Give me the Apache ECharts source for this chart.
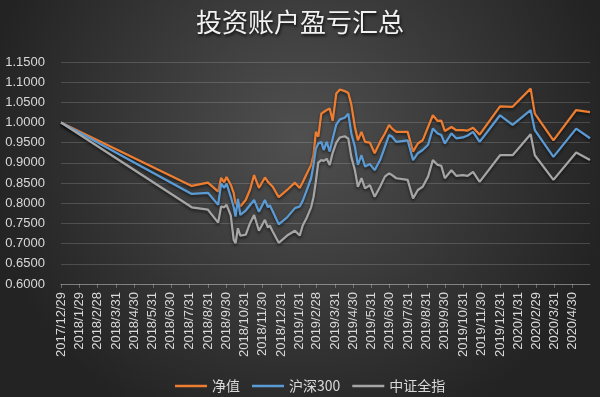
<!DOCTYPE html>
<html>
<head>
<meta charset="utf-8">
<title>投资账户盈亏汇总</title>
<script src="https://cdn.jsdelivr.net/npm/echarts@6.0.0/dist/echarts.min.js"></script>
<style>
  html, body { margin: 0; padding: 0; background: #333; }
  #chart { width: 600px; height: 397px; }
</style>
</head>
<body>
<div id="chart"></div>
<script>
// dates of each observation
const dates = [
  '2017/12/29', '2018/8/4', '2018/8/31', '2018/9/17', '2018/9/22', '2018/9/27', '2018/10/1',
  '2018/10/8', '2018/10/13', '2018/10/16', '2018/10/20', '2018/10/24', '2018/11/2', '2018/11/9',
  '2018/11/16', '2018/11/24', '2018/12/4', '2018/12/9', '2018/12/12', '2018/12/17', '2018/12/27',
  '2019/1/10', '2019/1/23', '2019/1/31', '2019/2/5', '2019/2/12', '2019/2/19', '2019/2/23',
  '2019/2/27', '2019/3/3', '2019/3/8', '2019/3/12', '2019/3/17', '2019/3/22', '2019/3/27',
  '2019/4/2', '2019/4/8', '2019/4/16', '2019/4/22', '2019/4/27', '2019/5/3', '2019/5/8',
  '2019/5/14', '2019/5/20', '2019/5/28', '2019/6/5', '2019/6/14', '2019/6/22', '2019/6/29',
  '2019/7/4', '2019/7/11', '2019/7/30', '2019/8/8', '2019/8/16', '2019/8/24', '2019/9/2',
  '2019/9/10', '2019/9/18', '2019/9/24', '2019/9/30', '2019/10/11', '2019/10/19', '2019/10/30',
  '2019/11/7', '2019/11/16', '2019/11/27', '2019/12/31', '2020/1/21', '2020/2/20', '2020/2/27',
  '2020/3/29', '2020/5/6', '2020/5/29'
]

// 净值
const navValues = [
  1.000, 0.843, 0.851, 0.829, 0.863, 0.852, 0.865,
  0.846, 0.825, 0.798, 0.803, 0.792, 0.808, 0.833,
  0.870, 0.838, 0.864, 0.853, 0.857, 0.841, 0.815,
  0.833, 0.851, 0.838, 0.852, 0.874, 0.895, 0.920,
  0.977, 0.965, 1.022, 1.026, 1.031, 1.035, 1.004,
  1.072, 1.082, 1.078, 1.073, 1.045, 0.989, 0.956,
  0.977, 0.952, 0.950, 0.924, 0.952, 0.973, 0.994,
  0.985, 0.977, 0.977, 0.928, 0.948, 0.956, 0.989,
  1.018, 1.004, 1.005, 0.979, 0.989, 0.981, 0.981,
  0.980, 0.987, 0.970, 1.040, 1.039, 1.084, 1.022,
  0.956, 1.031, 1.026
]

// 沪深300
const hs300Values = [
  1.000, 0.823, 0.826, 0.796, 0.849, 0.838, 0.849,
  0.816, 0.790, 0.767, 0.811, 0.771, 0.782, 0.795,
  0.808, 0.779, 0.808, 0.790, 0.795, 0.780, 0.748,
  0.765, 0.788, 0.792, 0.806, 0.833, 0.862, 0.895,
  0.935, 0.948, 0.952, 0.932, 0.952, 0.928, 0.960,
  0.995, 1.008, 1.012, 1.022, 0.973, 0.940, 0.895,
  0.919, 0.891, 0.897, 0.882, 0.907, 0.940, 0.969,
  0.965, 0.952, 0.956, 0.907, 0.924, 0.932, 0.945,
  0.985, 0.973, 0.969, 0.948, 0.973, 0.961, 0.963,
  0.968, 0.977, 0.952, 1.018, 0.994, 1.031, 0.981,
  0.915, 0.985, 0.961
]

// 中证全指
const zzqzValues = [
  1.000, 0.790, 0.784, 0.752, 0.792, 0.790, 0.796,
  0.770, 0.709, 0.701, 0.738, 0.720, 0.722, 0.750,
  0.771, 0.732, 0.759, 0.740, 0.745, 0.730, 0.702,
  0.720, 0.732, 0.720, 0.745, 0.765, 0.790, 0.815,
  0.855, 0.901, 0.907, 0.905, 0.910, 0.895, 0.925,
  0.950, 0.963, 0.966, 0.960, 0.915, 0.882, 0.841,
  0.862, 0.837, 0.845, 0.816, 0.841, 0.866, 0.874,
  0.870, 0.862, 0.858, 0.812, 0.833, 0.841, 0.866,
  0.907, 0.895, 0.893, 0.862, 0.882, 0.868, 0.870,
  0.868, 0.878, 0.853, 0.919, 0.919, 0.971, 0.919,
  0.858, 0.926, 0.907
]

// x axis tick labels
const tickLabels = [
  '2017/12/29', '2018/1/29', '2018/2/28', '2018/3/31', '2018/4/30', '2018/5/31', '2018/6/30',
  '2018/7/31', '2018/8/31', '2018/9/30', '2018/10/31', '2018/11/30', '2018/12/31', '2019/1/31',
  '2019/2/28', '2019/3/31', '2019/4/30', '2019/5/31', '2019/6/30', '2019/7/31', '2019/8/31',
  '2019/9/30', '2019/10/31', '2019/11/30', '2019/12/31', '2020/1/31', '2020/2/29', '2020/3/31',
  '2020/4/30'
]
const axisEnd = '2020/5/29'

function toTime (s) {
  const [y, m, d] = s.split('/').map(Number)
  return new Date(y, m - 1, d).getTime()
}
function fmtDate (t) {
  const dt = new Date(t)
  return dt.getFullYear() + '/' + (dt.getMonth() + 1) + '/' + dt.getDate()
}

const tickTimes = tickLabels.map(toTime)
const labelColor = '#d9d9d9'

function makeSeries (name, values, color) {
  return {
    name: name,
    type: 'line',
    symbol: 'none',
    data: dates.map((d, i) => [toTime(d), values[i]]),
    lineStyle: {
      color: color,
      width: 2.25,
      shadowColor: 'rgba(0,0,0,0.55)',
      shadowBlur: 3,
      shadowOffsetY: 2
    },
    itemStyle: { color: color },
    animation: false
  }
}

const chart = echarts.init(document.getElementById('chart'))
chart.setOption({
  backgroundColor: {
    type: 'radial', x: 0.5, y: 0.35, r: 0.8,
    colorStops: [
      { offset: 0, color: '#505050' },
      { offset: 1, color: '#232323' }
    ]
  },
  title: {
    text: '投资账户盈亏汇总',
    left: 'center',
    top: 9,
    padding: 0,
    textStyle: {
      color: '#f2f2f2',
      fontSize: 26,
      fontWeight: 'normal',
      fontFamily: 'Noto Sans CJK SC',
      textShadowColor: 'rgba(0,0,0,0.8)',
      textShadowBlur: 3,
      textShadowOffsetX: 1,
      textShadowOffsetY: 2
    }
  },
  legend: {
    left: 170,
    top: 374,
    icon: 'rect',
    itemWidth: 32,
    itemHeight: 2.5,
    itemGap: 12,
    textStyle: { color: labelColor, fontSize: 14, fontFamily: 'Noto Sans CJK SC' },
    data: ['净值', '沪深300', '中证全指']
  },
  grid: { left: 61, right: 10, top: 62, bottom: 113 },
  xAxis: {
    type: 'value',
    min: toTime(tickLabels[0]),
    max: toTime(axisEnd),
    axisLine: { show: true, onZero: false, lineStyle: { color: 'rgba(255,255,255,0.28)', width: 1 } },
    axisTick: { show: true, length: 4, customValues: tickTimes, lineStyle: { color: 'rgba(255,255,255,0.28)' } },
    splitLine: { show: false },
    axisLabel: {
      customValues: tickTimes,
      rotate: 90,
      margin: 8,
      color: labelColor,
      fontSize: 13,
      fontFamily: 'Liberation Sans',
      formatter: (v) => fmtDate(v)
    }
  },
  yAxis: {
    type: 'value',
    min: 0.6,
    max: 1.15,
    interval: 0.05,
    axisLine: { show: false },
    axisTick: { show: false },
    splitLine: { lineStyle: { color: 'rgba(255,255,255,0.16)', width: 1 } },
    axisLabel: {
      margin: 16,
      color: labelColor,
      fontSize: 13,
      fontFamily: 'Liberation Sans',
      formatter: (v) => v.toFixed(4)
    }
  },
  series: [
    makeSeries('净值', navValues, '#ED7D31'),
    makeSeries('沪深300', hs300Values, '#5B9BD5'),
    makeSeries('中证全指', zzqzValues, '#A5A5A5')
  ]
})
</script>
</body>
</html>
